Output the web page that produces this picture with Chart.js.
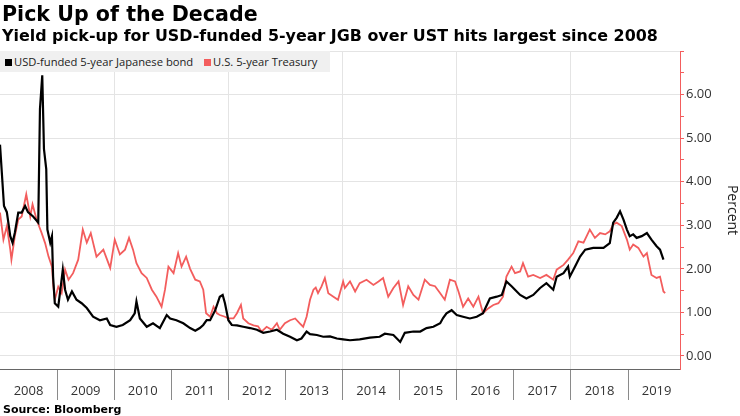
<!DOCTYPE html>
<html>
<head>
<meta charset="utf-8">
<script src="https://cdn.jsdelivr.net/npm/chart.js@4.4.0/dist/chart.umd.min.js"></script>
<style>
  html, body { margin: 0; padding: 0; background: #fff; }
  #wrap { position: relative; width: 740px; height: 416px; overflow: hidden; }
  #chart { position: absolute; left: 0; top: 0; }
  .title { position: absolute; left: 2px; top: 2px; font: bold 20.6px "DejaVu Sans"; color: #000; white-space: nowrap; }
  .subtitle { position: absolute; left: 2px; top: 26px; font: bold 15.9px "DejaVu Sans"; color: #000; white-space: nowrap; }
  .legend { position: absolute; left: 0; top: 51px; width: 330px; height: 21px; background: #f0f0f0;
            font: 11.2px "Open Sans"; color: #222; line-height: 21px; white-space: nowrap; }
  .legend span.box { display: inline-block; width: 7px; height: 7px; margin: 0 2px 0 5px; vertical-align: 0px; }
  .source { position: absolute; left: 3px; top: 403px; font: bold 11px "DejaVu Sans"; color: #000; }
</style>
</head>
<body>
<div id="wrap">
  <canvas id="chart" width="740" height="416"></canvas>
  <div class="title">Pick Up of the Decade</div>
  <div class="subtitle">Yield pick-up for USD-funded 5-year JGB over UST hits largest since 2008</div>
  <div class="legend"><span class="box" style="background:#000"></span>USD-funded 5-year Japanese bond <span class="box" style="background:#f35d5d;margin-left:8px"></span>U.S. 5-year Treasury</div>
  <div class="source">Source: Bloomberg</div>
</div>
<script>
// Year labels along the bottom
const years = [2008, 2009, 2010, 2011, 2012, 2013, 2014, 2015, 2016, 2017, 2018, 2019];
// Right axis labelled values
const yLabels = [0, 1, 2, 3, 4, 5, 6];

// USD-funded 5-year Japanese bond (percent)
const jgbDates = [2008.00, 2008.07, 2008.12, 2008.18, 2008.22, 2008.26, 2008.32, 2008.38, 2008.44, 2008.49,
  2008.58, 2008.67, 2008.70, 2008.74, 2008.77, 2008.81, 2008.83, 2008.88, 2008.91, 2008.93,
  2008.96, 2009.02, 2009.05, 2009.10, 2009.14, 2009.19, 2009.26, 2009.34, 2009.43, 2009.52,
  2009.63, 2009.75, 2009.87, 2009.93, 2010.04, 2010.15, 2010.28, 2010.36, 2010.39, 2010.45,
  2010.57, 2010.68, 2010.80, 2010.92, 2010.98, 2011.09, 2011.21, 2011.33, 2011.42, 2011.50,
  2011.56, 2011.62, 2011.68, 2011.77, 2011.85, 2011.90, 2011.94, 2012.00, 2012.06, 2012.15,
  2012.26, 2012.38, 2012.50, 2012.61, 2012.73, 2012.85, 2012.96, 2013.08, 2013.20, 2013.28,
  2013.37, 2013.43, 2013.55, 2013.66, 2013.78, 2013.90, 2014.01, 2014.13, 2014.30, 2014.48,
  2014.65, 2014.74, 2014.89, 2015.01, 2015.09, 2015.24, 2015.36, 2015.47, 2015.59, 2015.71,
  2015.76, 2015.82, 2015.91, 2016.00, 2016.11, 2016.23, 2016.35, 2016.46, 2016.58, 2016.70,
  2016.79, 2016.87, 2016.96, 2017.02, 2017.11, 2017.22, 2017.34, 2017.46, 2017.57, 2017.69,
  2017.75, 2017.87, 2017.95, 2017.98, 2018.07, 2018.16, 2018.25, 2018.39, 2018.57, 2018.68,
  2018.74, 2018.80, 2018.86, 2018.92, 2018.98, 2019.03, 2019.09, 2019.15, 2019.24, 2019.33,
  2019.41, 2019.50, 2019.56, 2019.62];
const jgbValues = [4.85, 3.44, 3.30, 2.75, 2.60, 2.83, 3.29, 3.29, 3.44, 3.30,
  3.20, 3.06, 5.67, 6.44, 4.75, 4.29, 2.90, 2.60, 2.75, 1.82,
  1.21, 1.13, 1.44, 1.98, 1.52, 1.29, 1.48, 1.29, 1.21, 1.10,
  0.90, 0.82, 0.86, 0.71, 0.67, 0.71, 0.82, 0.98, 1.25, 0.86,
  0.67, 0.75, 0.64, 0.94, 0.86, 0.82, 0.75, 0.64, 0.58, 0.64,
  0.71, 0.82, 0.82, 1.05, 1.36, 1.40, 1.21, 0.82, 0.71, 0.70,
  0.67, 0.64, 0.60, 0.53, 0.56, 0.60, 0.51, 0.44, 0.36, 0.40,
  0.56, 0.50, 0.48, 0.44, 0.45, 0.40, 0.38, 0.36, 0.38, 0.42,
  0.44, 0.51, 0.48, 0.32, 0.53, 0.56, 0.56, 0.64, 0.67, 0.75,
  0.87, 0.98, 1.05, 0.94, 0.90, 0.86, 0.90, 0.98, 1.32, 1.36,
  1.40, 1.71, 1.60, 1.52, 1.40, 1.32, 1.40, 1.56, 1.67, 1.52,
  1.82, 1.90, 2.05, 1.82, 2.05, 2.28, 2.44, 2.48, 2.48, 2.59,
  3.06, 3.17, 3.32, 3.13, 2.90, 2.75, 2.79, 2.71, 2.75, 2.82,
  2.67, 2.52, 2.44, 2.21];

// U.S. 5-year Treasury (percent)
const ustDates = [2008.00, 2008.06, 2008.12, 2008.18, 2008.20, 2008.26, 2008.32, 2008.38, 2008.46, 2008.53,
  2008.57, 2008.64, 2008.73, 2008.79, 2008.85, 2008.91, 2008.93, 2008.96, 2009.02, 2009.08,
  2009.14, 2009.20, 2009.28, 2009.37, 2009.45, 2009.52, 2009.59, 2009.69, 2009.81, 2009.93,
  2010.01, 2010.10, 2010.19, 2010.26, 2010.33, 2010.39, 2010.48, 2010.57, 2010.66, 2010.74,
  2010.83, 2010.89, 2010.95, 2011.04, 2011.12, 2011.18, 2011.26, 2011.33, 2011.42, 2011.50,
  2011.56, 2011.61, 2011.68, 2011.74, 2011.80, 2011.85, 2011.94, 2012.00, 2012.09, 2012.15,
  2012.22, 2012.26, 2012.35, 2012.44, 2012.52, 2012.58, 2012.67, 2012.76, 2012.85, 2012.90,
  2012.99, 2013.08, 2013.17, 2013.25, 2013.31, 2013.37, 2013.43, 2013.49, 2013.53, 2013.57,
  2013.63, 2013.69, 2013.75, 2013.84, 2013.92, 2014.01, 2014.04, 2014.13, 2014.22, 2014.30,
  2014.42, 2014.54, 2014.63, 2014.71, 2014.80, 2014.89, 2014.98, 2015.06, 2015.15, 2015.24,
  2015.33, 2015.44, 2015.53, 2015.62, 2015.71, 2015.79, 2015.88, 2015.97, 2016.03, 2016.11,
  2016.20, 2016.29, 2016.38, 2016.46, 2016.55, 2016.64, 2016.73, 2016.81, 2016.87, 2016.96,
  2017.02, 2017.11, 2017.16, 2017.25, 2017.34, 2017.46, 2017.57, 2017.69, 2017.75, 2017.87,
  2017.95, 2018.04, 2018.13, 2018.22, 2018.33, 2018.42, 2018.51, 2018.60, 2018.68, 2018.74,
  2018.80, 2018.89, 2018.98, 2019.03, 2019.09, 2019.18, 2019.27, 2019.33, 2019.41, 2019.50,
  2019.56, 2019.62, 2019.65];
const ustValues = [3.29, 2.67, 2.98, 2.44, 2.21, 2.75, 3.13, 3.20, 3.71, 3.20,
  3.48, 3.13, 2.82, 2.59, 2.28, 2.05, 1.67, 1.29, 1.59, 1.44,
  1.98, 1.75, 1.90, 2.21, 2.90, 2.60, 2.82, 2.28, 2.44, 2.02,
  2.67, 2.33, 2.44, 2.71, 2.44, 2.13, 1.90, 1.79, 1.52, 1.36,
  1.13, 1.52, 2.05, 1.90, 2.36, 2.05, 2.28, 2.00, 1.75, 1.71,
  1.52, 0.98, 0.90, 1.13, 0.98, 0.94, 0.90, 0.86, 0.86, 0.98,
  1.17, 0.86, 0.75, 0.70, 0.68, 0.56, 0.67, 0.60, 0.75, 0.60,
  0.75, 0.82, 0.86, 0.75, 0.67, 0.90, 1.29, 1.52, 1.57, 1.44,
  1.59, 1.79, 1.44, 1.36, 1.29, 1.71, 1.56, 1.71, 1.48, 1.67,
  1.75, 1.63, 1.71, 1.79, 1.36, 1.56, 1.71, 1.17, 1.60, 1.40,
  1.29, 1.75, 1.63, 1.60, 1.44, 1.29, 1.75, 1.71, 1.48, 1.13,
  1.32, 1.13, 1.36, 0.98, 1.09, 1.17, 1.21, 1.36, 1.82, 2.05,
  1.90, 1.94, 2.13, 1.82, 1.86, 1.79, 1.86, 1.75, 1.98, 2.09,
  2.21, 2.36, 2.63, 2.60, 2.90, 2.71, 2.82, 2.79, 2.86, 3.02,
  3.06, 2.98, 2.67, 2.44, 2.56, 2.48, 2.28, 2.36, 1.86, 1.79,
  1.82, 1.48, 1.44];

const RED = '#f35d5d';
const GRID = '#e4e4e4';

function toPoints(dates, values) {
  return dates.map((d, i) => ({ x: d, y: values[i] }));
}

const ctx = document.getElementById('chart');
new Chart(ctx, {
  type: 'line',
  data: {
    datasets: [
      {
        label: 'USD-funded 5-year Japanese bond',
        data: toPoints(jgbDates, jgbValues),
        borderColor: '#000',
        borderWidth: 2.2,
        pointRadius: 0,
        tension: 0
      },
      {
        label: 'U.S. 5-year Treasury',
        data: toPoints(ustDates, ustValues),
        borderColor: RED,
        borderWidth: 1.8,
        pointRadius: 0,
        tension: 0
      }
    ]
  },
  options: {
    responsive: false,
    animation: false,
    layout: { padding: { top: 51, left: 0, right: 0, bottom: 0 } },
    plugins: { legend: { display: false }, tooltip: { enabled: false } },
    scales: {
      x: {
        type: 'linear',
        min: years[0],
        max: 2019.91,
        afterBuildTicks: function(scale) {
          const t = [];
          years.forEach(y => { t.push({ value: y }); t.push({ value: y + 0.5 }); });
          scale.ticks = t;
        },
        afterFit: function(scale) { scale.height = 47; },
        grid: {
          color: c => {
            const v = c.tick && c.tick.value;
            return (Number.isInteger(v) && v % 2 === 0 && v !== years[0]) ? GRID : 'rgba(0,0,0,0)';
          },
          tickColor: c => {
            const v = c.tick && c.tick.value;
            return (Number.isInteger(v) && v !== years[0]) ? '#8a8a8a' : 'rgba(0,0,0,0)';
          },
          tickLength: 31
        },
        border: { color: '#666', width: 1 },
        ticks: {
          autoSkip: false,
          maxRotation: 0,
          padding: -17,
          color: '#333',
          font: { family: 'Open Sans', size: 13 },
          callback: v => Number.isInteger(v) ? '' : String(Math.floor(v))
        }
      },
      y: {
        position: 'right',
        min: -0.3,
        max: 7,
        afterBuildTicks: function(scale) {
          const t = [];
          for (let i = 0; i <= 14; i++) t.push({ value: i / 2 });
          scale.ticks = t;
        },
        afterFit: function(scale) { scale.width = 60; },
        grid: {
          color: c => {
            const v = c.tick && c.tick.value;
            return Number.isInteger(v) ? GRID : 'rgba(0,0,0,0)';
          },
          tickColor: RED,
          tickLength: 4
        },
        border: { color: RED, width: 1 },
        ticks: {
          autoSkip: false,
          padding: 2,
          color: '#333',
          font: { family: 'Open Sans', size: 13 },
          callback: v => yLabels.includes(v) ? v.toFixed(2) : ''
        },
        title: {
          display: true,
          text: 'Percent',
          color: '#222',
          font: { family: 'Open Sans', size: 14 },
          padding: { top: 0, bottom: 0 }
        }
      }
    }
  }
});
</script>
</body>
</html>
